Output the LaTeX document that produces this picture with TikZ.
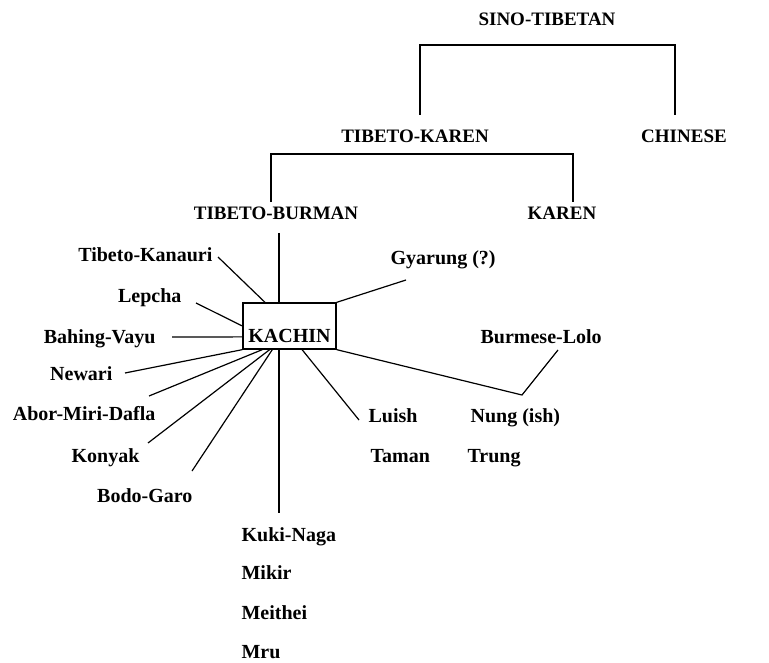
\documentclass[tikz,border=0pt]{standalone}
\usepackage{fontspec}
\setmainfont{Liberation Serif}
\tikzset{every path/.style={black,line width=1.2pt},
  grp/.style={font=\fontsize{19}{22}\selectfont\bfseries, inner sep=0pt},
  lang/.style={font=\fontsize{20}{24}\selectfont\bfseries, inner sep=0pt},
  hub/.style={draw, line width=1.3pt, font=\fontsize{20}{24}\selectfont\bfseries,
    inner xsep=0pt, inner ysep=0pt, minimum width=93pt, text height=39pt, text depth=7pt}}

\begin{document}
\begin{tikzpicture}[x=1pt,y=-1pt]
  \useasboundingbox (0,0) rectangle (769,663);
  \begin{scope}
   \node[grp, anchor=base] (sino)    at (547, 26) {SINO-TIBETAN};
   \node[grp, anchor=base] (tibkar)  at (415,143) {TIBETO-KAREN};
   \node[grp, anchor=base] (chinese) at (684,143) {CHINESE};
   \node[grp, anchor=base] (tibbur)  at (276,220) {TIBETO-BURMAN};
   \node[grp, anchor=base] (karen)   at (562,220) {KAREN};
   \coordinate (st-l) at (420,115);
   \coordinate (st-r) at (675,115);
   \coordinate (tk-l) at (271,202);
   \coordinate (tk-r) at (573,202);
   \draw (st-l) -- ++(0,-70) -| (st-r);
   \draw (tk-l) -- ++(0,-48) -| (tk-r);
  \end{scope}
  \begin{scope}
   \node[hub, anchor=base] (kachin) at (289.5,342) {KACHIN};
   \coordinate (trunk) at (279,233);
   \draw (trunk) -- (trunk |- kachin.north);
   \node[lang, anchor=base east] (tibkan) at (213,262) {Tibeto-Kanauri};
   \node[lang, anchor=base east] (lepcha) at (182,303) {Lepcha};
   \node[lang, anchor=base east] (bahing) at (156,343) {Bahing-Vayu};
   \node[lang, anchor=base east] (newari) at (113,381) {Newari};
   \node[lang, anchor=base east] (abor)   at (156,420) {Abor-Miri-Dafla};
   \node[lang, anchor=base east] (konyak) at (140,462) {Konyak};
   \node[lang, anchor=base east] (bodo)   at (193,502) {Bodo-Garo};
   \coordinate (tibkan-e) at (218,257);
   \coordinate (lepcha-e) at (196,303);
   \coordinate (bahing-e) at (172,337);
   \coordinate (newari-e) at (125,373);
   \coordinate (abor-e)   at (149,396);
   \coordinate (konyak-e) at (148,443);
   \coordinate (bodo-e)   at (192,471);
   \draw (tibkan-e) -- (kachin.136);
   \draw (lepcha-e) -- (kachin.west);
   \draw (bahing-e) -- (kachin.193);
   \draw (newari-e) -- (kachin.south west);
   \draw (abor-e)   -- (kachin.221);
   \draw (konyak-e) -- (kachin.230);
   \draw (bodo-e)   -- (kachin.234);
   \node[lang, anchor=base west] (kuki)    at (241,541) {Kuki-Naga};
   \node[lang, anchor=base west] (mikir)   at (241,579) {Mikir};
   \node[lang, anchor=base west] (meithei) at (241,619) {Meithei};
   \node[lang, anchor=base west] (mru)     at (241,658) {Mru};
   \coordinate (kuki-e) at (279,513);
   \draw (kachin.south -| trunk) -- (kuki-e);
   \node[lang, anchor=base west] (gyarung) at (390,265) {Gyarung (?)};
   \node[lang, anchor=base west] (burmese) at (480,343) {Burmese-Lolo};
   \node[lang, anchor=base west] (luish)   at (368,422) {Luish};
   \node[lang, anchor=base west] (nung)    at (470,422) {Nung (ish)};
   \node[lang, anchor=base west] (taman)   at (370,462) {Taman};
   \node[lang, anchor=base west] (trung)   at (467,462) {Trung};
   \coordinate (gyarung-e) at (406,280);
   \coordinate (luish-e)   at (359,420);
   \coordinate (nung-e)    at (522,395);
   \coordinate (burmese-e) at (558,350);
   \draw (kachin.north east) -- (gyarung-e);
   \draw (kachin.298) -- (luish-e);
   \draw (kachin.south east) -- (nung-e) -- (burmese-e);
  \end{scope}
\end{tikzpicture}
\end{document}
